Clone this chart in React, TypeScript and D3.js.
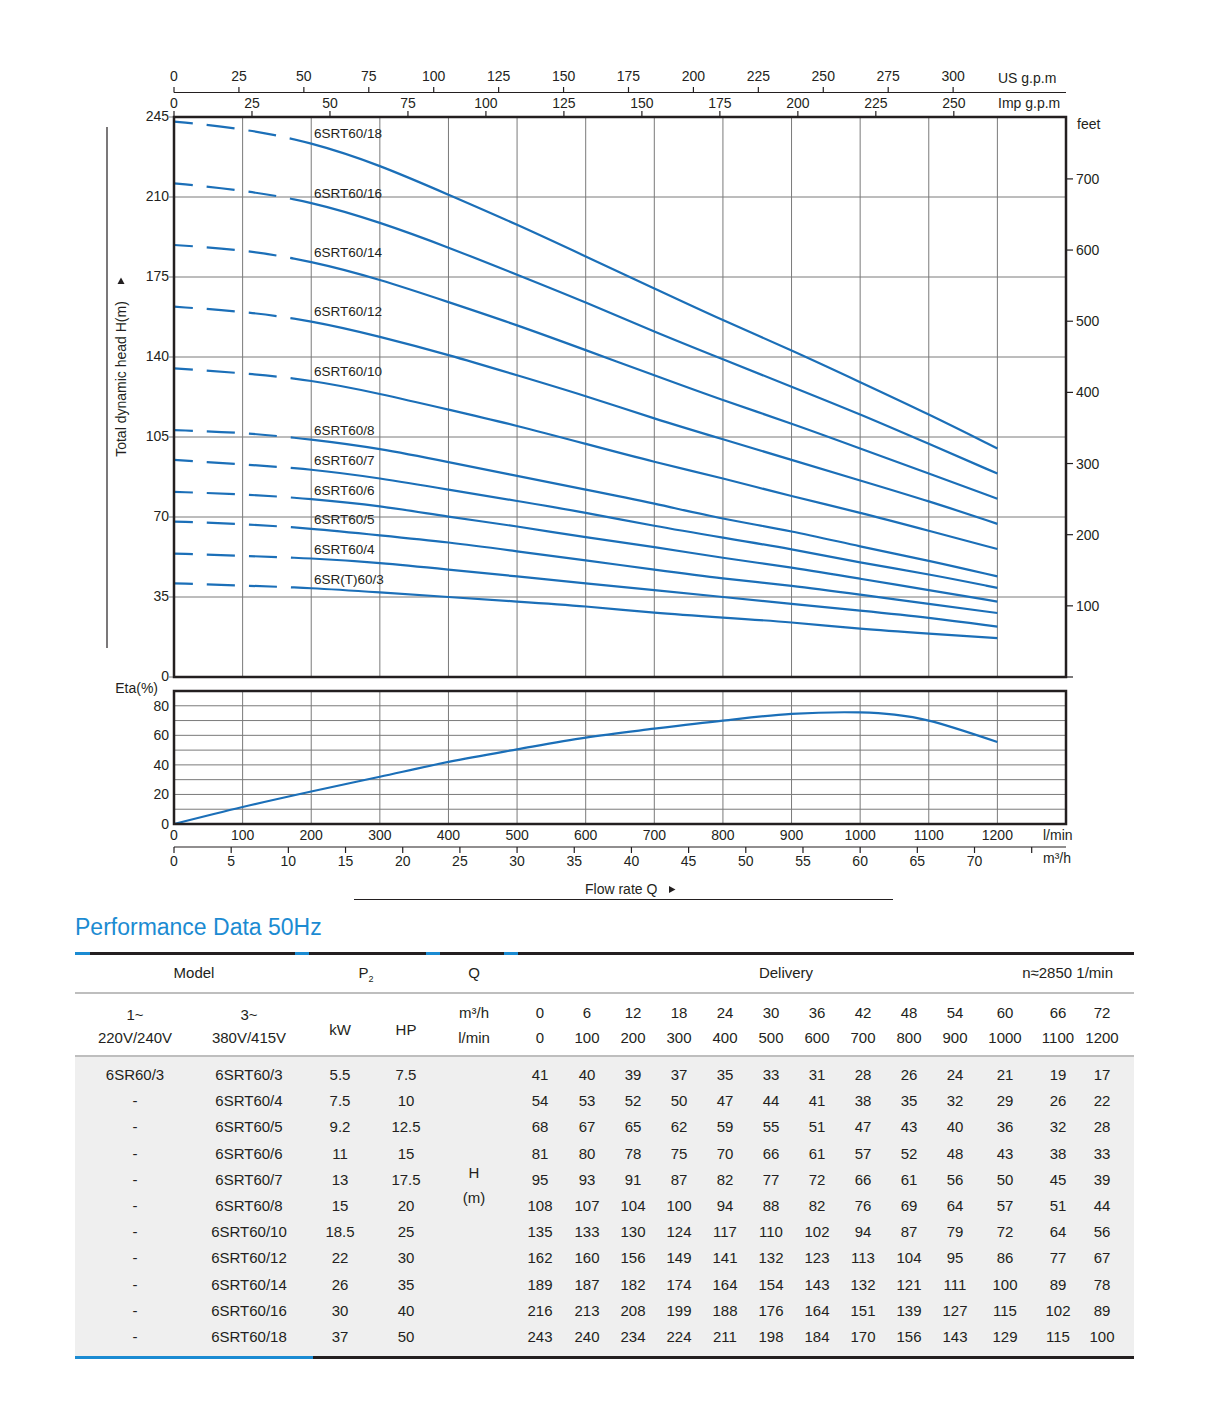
import * as d3 from "d3";

// ---- data ----
const flowLmin = [0, 100, 200, 300, 400, 500, 600, 700, 800, 900, 1000, 1100, 1200];
const flowM3h = [0, 6, 12, 18, 24, 30, 36, 42, 48, 54, 60, 66, 72];

const models1ph = ["6SR60/3", "-", "-", "-", "-", "-", "-", "-", "-", "-", "-"];
const models3ph = [
  "6SRT60/3", "6SRT60/4", "6SRT60/5", "6SRT60/6", "6SRT60/7", "6SRT60/8",
  "6SRT60/10", "6SRT60/12", "6SRT60/14", "6SRT60/16", "6SRT60/18",
];
const curveLabels = [
  "6SR(T)60/3", "6SRT60/4", "6SRT60/5", "6SRT60/6", "6SRT60/7", "6SRT60/8",
  "6SRT60/10", "6SRT60/12", "6SRT60/14", "6SRT60/16", "6SRT60/18",
];
const powerKw = ["5.5", "7.5", "9.2", "11", "13", "15", "18.5", "22", "26", "30", "37"];
const powerHp = ["7.5", "10", "12.5", "15", "17.5", "20", "25", "30", "35", "40", "50"];

const head3 = [41, 40, 39, 37, 35, 33, 31, 28, 26, 24, 21, 19, 17];
const head4 = [54, 53, 52, 50, 47, 44, 41, 38, 35, 32, 29, 26, 22];
const head5 = [68, 67, 65, 62, 59, 55, 51, 47, 43, 40, 36, 32, 28];
const head6 = [81, 80, 78, 75, 70, 66, 61, 57, 52, 48, 43, 38, 33];
const head7 = [95, 93, 91, 87, 82, 77, 72, 66, 61, 56, 50, 45, 39];
const head8 = [108, 107, 104, 100, 94, 88, 82, 76, 69, 64, 57, 51, 44];
const head10 = [135, 133, 130, 124, 117, 110, 102, 94, 87, 79, 72, 64, 56];
const head12 = [162, 160, 156, 149, 141, 132, 123, 113, 104, 95, 86, 77, 67];
const head14 = [189, 187, 182, 174, 164, 154, 143, 132, 121, 111, 100, 89, 78];
const head16 = [216, 213, 208, 199, 188, 176, 164, 151, 139, 127, 115, 102, 89];
const head18 = [243, 240, 234, 224, 211, 198, 184, 170, 156, 143, 129, 115, 100];
const headRows = [head3, head4, head5, head6, head7, head8, head10, head12, head14, head16, head18];

const etaFlow = [0, 100, 200, 300, 400, 500, 600, 700, 800, 900, 1000, 1050, 1100, 1200];
const etaValues = [0, 11.5, 22, 32, 42, 50.5, 58.5, 64.5, 70, 74.5, 75.5, 74, 70, 55.5];

const headTicks = [0, 35, 70, 105, 140, 175, 210, 245];
const feetTicks = [0, 100, 200, 300, 400, 500, 600, 700];
const usGpmTicks = [0, 25, 50, 75, 100, 125, 150, 175, 200, 225, 250, 275, 300];
const impGpmTicks = [0, 25, 50, 75, 100, 125, 150, 175, 200, 225, 250];
const etaTicks = [0, 20, 40, 60, 80];
const etaGrid = [10, 20, 30, 40, 50, 60, 70, 80];
const m3hTicks = [0, 5, 10, 15, 20, 25, 30, 35, 40, 45, 50, 55, 60, 65, 70, 75];

// ---- layout ----
const W = 1209;
const H = 1414;
const FONT = "'Liberation Sans', Arial, Helvetica, sans-serif";
const INK = "#231f20";
const BLUE = "#1b6fb8";
const CYAN = "#1b8bd2";
const GRID = "#7a7a7a";

const left = 174;
const right = 1066;
const mainTop = 117;
const mainBottom = 677;
const etaTop = 691;
const etaBottom = 824;
const dashEnd = 175; // l/min where curves turn solid

const x = d3.scaleLinear().domain([0, 1300]).range([left, right]);
const y = d3.scaleLinear().domain([0, 245]).range([mainBottom, mainTop]);
const yFeet = d3.scaleLinear().domain([0, 787]).range([mainBottom, mainTop]);
const yEta = d3.scaleLinear().domain([0, 90]).range([etaBottom, etaTop]);
const xUs = d3.scaleLinear().domain([0, 1300 / 3.785]).range([left, right]);
const xImp = d3.scaleLinear().domain([0, 1300 / 4.546]).range([left, right]);
const xM3h = d3.scaleLinear().domain([0, 78]).range([left, right]);

// B-spline smooths the rounding steps of the tabulated values
const headLine = d3
  .line<number>()
  .x((_, i) => x(flowLmin[i]))
  .y((d) => y(d))
  .curve(d3.curveBasis);

const etaLine = d3
  .line<number>()
  .x((_, i) => x(etaFlow[i]))
  .y((d) => yEta(d))
  .curve(d3.curveCatmullRom.alpha(0.5));

// table layout
const colX = [540, 587, 633, 679, 725, 771, 817, 863, 909, 955, 1005, 1058, 1102];
const rowY = (i: number) => 1080 + i * 26.2;
const tLeft = 75;
const tRight = 1134;

const txt = (extra: Record<string, unknown> = {}) => ({
  fontFamily: FONT,
  fill: INK,
  ...extra,
});

export default function App() {
  const gridX = flowLmin.slice(1);
  return (
    <svg
      width={W}
      height={H}
      viewBox={`0 0 ${W} ${H}`}
      style={{ position: "absolute", left: 0, top: 0, background: "white" }}
    >
      <defs>
        <clipPath id="dashPart">
          <rect x={left - 5} y={mainTop - 10} width={x(dashEnd) - left + 5} height={mainBottom - mainTop + 20} />
        </clipPath>
        <clipPath id="solidPart">
          <rect x={x(dashEnd)} y={mainTop - 10} width={right - x(dashEnd)} height={mainBottom - mainTop + 20} />
        </clipPath>
      </defs>

      {/* top axes */}
      <line x1={left} x2={right} y1={92.5} y2={92.5} stroke={INK} strokeWidth={1.2} />
      {usGpmTicks.map((t) => (
        <g key={"us" + t}>
          <line x1={xUs(t)} x2={xUs(t)} y1={87} y2={92.5} stroke={INK} strokeWidth={1.2} />
          <text x={xUs(t)} y={80.5} textAnchor="middle" fontSize={14} {...txt()}>{t}</text>
        </g>
      ))}
      <text x={998} y={83} fontSize={14} {...txt()}>US g.p.m</text>
      {impGpmTicks.map((t) => (
        <g key={"imp" + t}>
          <line x1={xImp(t)} x2={xImp(t)} y1={111} y2={mainTop} stroke={INK} strokeWidth={1.2} />
          <text x={xImp(t)} y={108} textAnchor="middle" fontSize={14} {...txt()}>{t}</text>
        </g>
      ))}
      <text x={998} y={108} fontSize={14} {...txt()}>Imp g.p.m</text>

      {/* main grid */}
      {gridX.map((q) => (
        <line key={"gx" + q} x1={x(q)} x2={x(q)} y1={mainTop} y2={mainBottom} stroke={GRID} strokeWidth={1} />
      ))}
      {headTicks.slice(1, -1).map((h) => (
        <line key={"gy" + h} x1={left} x2={right} y1={y(h)} y2={y(h)} stroke={GRID} strokeWidth={1} />
      ))}

      {/* left axis */}
      <line x1={107} x2={107} y1={127} y2={648} stroke={INK} strokeWidth={1.2} />
      <text transform="translate(126,379) rotate(-90)" textAnchor="middle" fontSize={14} {...txt()}>
        Total dynamic head H(m)
      </text>
      <polygon points="117.5,284 124.5,284 121,277.5" fill={INK} />
      {headTicks.map((h) => (
        <g key={"hl" + h}>
          <line x1={left - 5} x2={left} y1={y(h)} y2={y(h)} stroke={GRID} strokeWidth={1} />
          <text x={169} y={y(h) + 4} textAnchor="end" fontSize={14} {...txt()}>{h}</text>
        </g>
      ))}

      {/* right axis (feet) */}
      {feetTicks.map((f) => (
        <g key={"ft" + f}>
          <line x1={right} x2={right + 7} y1={yFeet(f)} y2={yFeet(f)} stroke={INK} strokeWidth={1.2} />
          {f > 0 && (
            <text x={right + 10} y={yFeet(f) + 5} fontSize={14} {...txt()}>{f}</text>
          )}
        </g>
      ))}
      <text x={1077} y={129} fontSize={14} {...txt()}>feet</text>

      {/* head curves */}
      {headRows.map((row, i) => (
        <g key={"c" + i}>
          <path
            d={headLine(row) ?? ""}
            fill="none"
            stroke={BLUE}
            strokeWidth={2.2}
            strokeDasharray="28 14"
            strokeDashoffset={9}
            clipPath="url(#dashPart)"
          />
          <path d={headLine(row) ?? ""} fill="none" stroke={BLUE} strokeWidth={2.2} clipPath="url(#solidPart)" />
          <text x={314} y={y(row[2]) - 4} fontSize={13.5} {...txt()}>{curveLabels[i]}</text>
        </g>
      ))}

      {/* main frame */}
      <rect x={left} y={mainTop} width={right - left} height={mainBottom - mainTop} fill="none" stroke={INK} strokeWidth={2.5} />

      {/* eta panel */}
      {gridX.map((q) => (
        <line key={"ex" + q} x1={x(q)} x2={x(q)} y1={etaTop} y2={etaBottom} stroke={GRID} strokeWidth={1} />
      ))}
      {etaGrid.map((e) => (
        <line key={"ey" + e} x1={left} x2={right} y1={yEta(e)} y2={yEta(e)} stroke={GRID} strokeWidth={1} />
      ))}
      <path d={etaLine(etaValues) ?? ""} fill="none" stroke={BLUE} strokeWidth={2.2} />
      <rect x={left} y={etaTop} width={right - left} height={etaBottom - etaTop} fill="none" stroke={INK} strokeWidth={2.5} />
      {etaTicks.map((e) => (
        <text key={"et" + e} x={169} y={yEta(e) + 5} textAnchor="end" fontSize={14} {...txt()}>{e}</text>
      ))}
      <text x={158} y={693} textAnchor="end" fontSize={14} {...txt()}>Eta(%)</text>

      {/* bottom axes */}
      {flowLmin.map((q) => (
        <text key={"lq" + q} x={x(q)} y={840} textAnchor="middle" fontSize={14} {...txt()}>{q}</text>
      ))}
      <text x={1043} y={840} fontSize={14} {...txt()}>l/min</text>
      <line x1={left} x2={right} y1={847} y2={847} stroke={INK} strokeWidth={1.2} />
      {m3hTicks.map((m) => (
        <g key={"m" + m}>
          <line x1={xM3h(m)} x2={xM3h(m)} y1={847} y2={853} stroke={INK} strokeWidth={1.2} />
          {m <= 70 && (
            <text x={xM3h(m)} y={866} textAnchor="middle" fontSize={14} {...txt()}>{m}</text>
          )}
        </g>
      ))}
      <text x={1043} y={863} fontSize={14} {...txt()}>m³/h</text>
      <text x={585} y={894} fontSize={14} {...txt()}>Flow rate Q</text>
      <polygon points="669,886 669,893 675.5,889.5" fill={INK} />
      <line x1={354} x2={893} y1={899.5} y2={899.5} stroke={INK} strokeWidth={1.2} />

      {/* ---- table ---- */}
      <text x={75} y={935} fontSize={23} {...txt({ fill: CYAN })}>Performance Data 50Hz</text>

      <line x1={tLeft} x2={tRight} y1={953.5} y2={953.5} stroke={INK} strokeWidth={3} />
      {[[75, 90], [295, 309], [426, 440], [504, 518]].map(([a, b]) => (
        <line key={"bl" + a} x1={a} x2={b} y1={953.5} y2={953.5} stroke={CYAN} strokeWidth={3} />
      ))}

      <text x={194} y={978} textAnchor="middle" fontSize={15} {...txt()}>Model</text>
      <text x={366} y={978} textAnchor="middle" fontSize={15} {...txt()}>
        P<tspan fontSize={9} dy={4}>2</tspan>
      </text>
      <text x={474} y={978} textAnchor="middle" fontSize={15} {...txt()}>Q</text>
      <text x={786} y={978} textAnchor="middle" fontSize={15} {...txt()}>Delivery</text>
      <text x={1113} y={978} textAnchor="end" fontSize={15} {...txt()}>n≈2850 1/min</text>

      <line x1={tLeft} x2={tRight} y1={993} y2={993} stroke="#a8a8a8" strokeWidth={1.5} />

      <text x={135} y={1020} textAnchor="middle" fontSize={15} {...txt()}>1~</text>
      <text x={135} y={1043} textAnchor="middle" fontSize={15} {...txt()}>220V/240V</text>
      <text x={249} y={1020} textAnchor="middle" fontSize={15} {...txt()}>3~</text>
      <text x={249} y={1043} textAnchor="middle" fontSize={15} {...txt()}>380V/415V</text>
      <text x={340} y={1035} textAnchor="middle" fontSize={15} {...txt()}>kW</text>
      <text x={406} y={1035} textAnchor="middle" fontSize={15} {...txt()}>HP</text>
      <text x={474} y={1018} textAnchor="middle" fontSize={15} {...txt()}>m³/h</text>
      <text x={474} y={1043} textAnchor="middle" fontSize={15} {...txt()}>l/min</text>
      {flowM3h.map((m, i) => (
        <text key={"hm" + i} x={colX[i]} y={1018} textAnchor="middle" fontSize={15} {...txt()}>{m}</text>
      ))}
      {flowLmin.map((q, i) => (
        <text key={"hq" + i} x={colX[i]} y={1043} textAnchor="middle" fontSize={15} {...txt()}>{q}</text>
      ))}

      <rect x={tLeft} y={1057} width={tRight - tLeft} height={299} fill="#efefef" />
      <line x1={tLeft} x2={tRight} y1={1056} y2={1056} stroke="#a8a8a8" strokeWidth={1.5} />

      {models3ph.map((m, r) => (
        <g key={"row" + r}>
          <text x={135} y={rowY(r)} textAnchor="middle" fontSize={15} {...txt()}>{models1ph[r]}</text>
          <text x={249} y={rowY(r)} textAnchor="middle" fontSize={15} {...txt()}>{m}</text>
          <text x={340} y={rowY(r)} textAnchor="middle" fontSize={15} {...txt()}>{powerKw[r]}</text>
          <text x={406} y={rowY(r)} textAnchor="middle" fontSize={15} {...txt()}>{powerHp[r]}</text>
          {headRows[r].map((v, c) => (
            <text key={c} x={colX[c]} y={rowY(r)} textAnchor="middle" fontSize={15} {...txt()}>{v}</text>
          ))}
        </g>
      ))}
      <text x={474} y={1178} textAnchor="middle" fontSize={15} {...txt()}>H</text>
      <text x={474} y={1203} textAnchor="middle" fontSize={15} {...txt()}>(m)</text>

      <line x1={313} x2={tRight} y1={1357.5} y2={1357.5} stroke={INK} strokeWidth={3} />
      <line x1={tLeft} x2={313} y1={1357.5} y2={1357.5} stroke={CYAN} strokeWidth={3} />
    </svg>
  );
}
